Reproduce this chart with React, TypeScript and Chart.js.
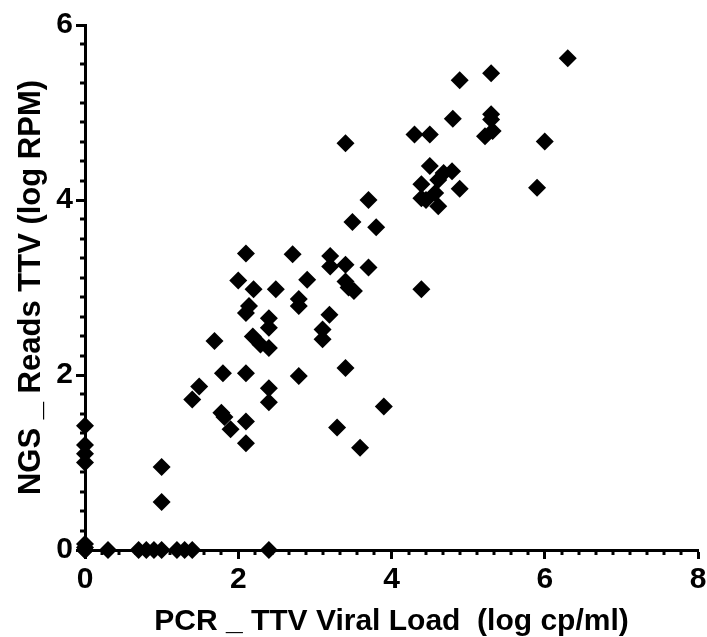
import React, { useEffect, useRef } from "react";
import { Chart, registerables } from "chart.js";

Chart.register(...registerables);

// PCR TTV viral load (log cp/ml)
const pcrLoad: number[] = [
  0, 0, 0, 0, 0, 0, 0, 0,
  0.3, 0.7, 0.8, 0.9, 1.0, 1.2, 1.3, 1.4, 2.4,
  1.0, 1.0,
  1.40, 1.49, 1.69, 1.80, 1.78, 1.82, 1.90, 2.10, 2.10, 2.10, 2.40, 2.40, 2.79, 3.40, 3.29, 3.59, 3.90,
  2.19, 2.29, 2.40, 2.14, 2.10, 2.40, 2.40, 2.79, 2.79, 3.10, 3.10, 3.19, 2.49, 2.90, 2.00, 2.20,
  3.40, 3.44, 3.51, 2.10, 2.71, 3.20, 3.20, 3.40, 3.70, 3.40, 3.70, 3.49, 3.80, 4.39,
  6.30, 4.89, 5.30, 4.80, 5.30, 5.30, 5.32, 5.22, 4.30, 4.50, 6.00, 4.50, 4.68, 4.79, 4.61,
  4.39, 4.89, 4.39, 4.57, 4.61, 5.90, 4.45,
];
// NGS reads TTV (log RPM)
const ngsReads: number[] = [
  0, 0, 0.03, 0.07, 1.0, 1.1, 1.2, 1.42,
  0, 0, 0, 0, 0, 0, 0, 0, 0,
  0.95, 0.55,
  1.72, 1.87, 2.39, 2.02, 1.57, 1.52, 1.38, 2.02, 1.47, 1.22, 1.85, 1.69, 1.99, 2.08, 1.40, 1.17, 1.64,
  2.44, 2.35, 2.31, 2.79, 2.71, 2.65, 2.54, 2.87, 2.79, 2.52, 2.41, 2.69, 2.98, 3.09, 3.08, 2.98,
  3.07, 3.00, 2.96, 3.39, 3.38, 3.36, 3.24, 3.26, 3.23, 4.65, 4.00, 3.75, 3.69, 2.98,
  5.62, 5.37, 5.45, 4.93, 4.98, 4.92, 4.79, 4.73, 4.75, 4.75, 4.67, 4.39, 4.31, 4.33, 4.23,
  4.18, 4.13, 4.02, 4.08, 3.93, 4.14, 4.00,
];

const xTicks = [0, 2, 4, 6, 8];
const yTicks = [0, 2, 4, 6];
const xTitle = "PCR _ TTV Viral Load  (log cp/ml)";
const yTitle = "NGS _ Reads TTV (log RPM)";

const FONT = "'Liberation Sans', Arial, sans-serif";

const minorTicks = {
  id: "minorTicks",
  afterDraw(chart: any) {
    const ctx = chart.ctx;
    const xs = chart.scales.x;
    const ys = chart.scales.y;
    ctx.save();
    ctx.strokeStyle = "#000";
    ctx.lineWidth = 3;
    ctx.lineCap = "butt";
    const step = 2 / 9;
    for (let i = 1; i < 36; i++) {
      if (i % 9 === 0) continue;
      const px = Math.round(xs.getPixelForValue(i * step));
      ctx.beginPath();
      ctx.moveTo(px, xs.top);
      ctx.lineTo(px, xs.top + 5);
      ctx.stroke();
    }
    for (let i = 1; i < 27; i++) {
      if (i % 9 === 0) continue;
      const py = Math.round(ys.getPixelForValue(i * step));
      ctx.beginPath();
      ctx.moveTo(ys.right, py);
      ctx.lineTo(ys.right - 5, py);
      ctx.stroke();
    }
    ctx.restore();
  },
};

export default function App() {
  const ref = useRef<HTMLCanvasElement | null>(null);
  useEffect(() => {
    if (!ref.current) return;
    const data = pcrLoad.map((x, i) => ({ x, y: ngsReads[i] }));
    const chart = new Chart(ref.current, {
      type: "scatter",
      data: {
        datasets: [
          {
            data,
            pointStyle: "rectRot",
            pointRadius: 9,
            pointHoverRadius: 9,
            backgroundColor: "#000",
            borderColor: "#000",
            borderWidth: 0,
            clip: false,
          } as any,
        ],
      },
      options: {
        responsive: false,
        animation: false,
        events: [],
        layout: { padding: { top: 25, right: 3, left: 0, bottom: 0 } },
        plugins: { legend: { display: false }, tooltip: { enabled: false } },
        scales: {
          x: {
            type: "linear",
            min: 0,
            max: 8,
            afterFit: (s: any) => {
              s.height = 87;
              s.paddingLeft = 0;
              s.paddingRight = 0;
            },
            afterBuildTicks: (s: any) => {
              s.ticks = xTicks.map((v) => ({ value: v }));
            },
            border: { display: true, color: "#000", width: 3 },
            grid: {
              display: true,
              drawOnChartArea: false,
              drawTicks: true,
              tickLength: 9,
              tickWidth: 3,
              tickColor: "#000",
            },
            ticks: {
              color: "#000",
              padding: 3,
              font: { family: FONT, size: 30, weight: "bold" },
            },
            title: {
              display: true,
              text: xTitle,
              color: "#000",
              padding: { top: 0, bottom: 0 },
              font: { family: FONT, size: 30, weight: "bold", lineHeight: 1 },
            },
          },
          y: {
            type: "linear",
            min: 0,
            max: 6,
            afterFit: (s: any) => {
              s.width = 85;
              s.paddingTop = 0;
              s.paddingBottom = 0;
            },
            afterBuildTicks: (s: any) => {
              s.ticks = yTicks.map((v) => ({ value: v }));
            },
            border: { display: true, color: "#000", width: 3 },
            grid: {
              display: true,
              drawOnChartArea: false,
              drawTicks: true,
              tickLength: 9,
              tickWidth: 3,
              tickColor: "#000",
            },
            ticks: {
              color: "#000",
              padding: 3,
              font: { family: FONT, size: 30, weight: "bold" },
            },
            title: {
              display: true,
              text: yTitle,
              color: "#000",
              padding: { top: 16, bottom: 0 },
              font: { family: FONT, size: 31, weight: "bold", lineHeight: 1 },
            },
          },
        },
      },
      plugins: [minorTicks],
    });
    return () => chart.destroy();
  }, []);
  return (
    <div style={{ position: "absolute", left: 0, top: 0, width: 707, height: 637, background: "#fff" }}>
      <canvas ref={ref} width={707} height={637} style={{ display: "block" }} />
    </div>
  );
}
